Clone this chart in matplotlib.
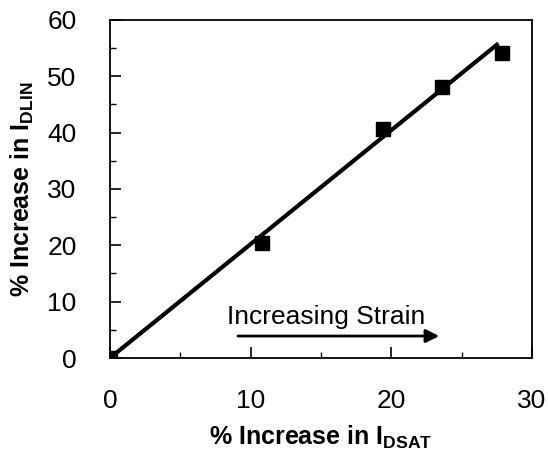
import numpy as np
import matplotlib.pyplot as plt

plt.rcParams['font.family'] = ['Liberation Sans', 'DejaVu Sans']

# measured points
idsat = [0, 10.8, 19.4, 23.6, 27.9]
idlin = [0, 20.4, 40.7, 48.1, 54.2]

# linear fit line
fit_x = [0, 27.5]
fit_y = [0, 55.6]

fig = plt.figure(figsize=(5.48, 4.51), dpi=100)
ax = fig.add_axes([0.2007, 0.2062, 0.7701, 0.7495])

ax.plot(fit_x, fit_y, 'k-', lw=3)
ax.plot(idsat, idlin, 'ks', ms=10.5)

ax.annotate('', xy=(23.6, 3.9), xytext=(8.9, 3.9),
            arrowprops=dict(arrowstyle='-|>', color='k', lw=2, mutation_scale=20))
ax.text(8.3, 7.2, 'Increasing Strain', fontsize=19, va='center', ha='left')

ax.set_xlim(0, 30)
ax.set_ylim(0, 60)
ax.set_xticks([0, 10, 20, 30])
ax.set_yticks([0, 10, 20, 30, 40, 50, 60])
ax.set_yticks(np.arange(5, 60, 5), minor=True)
ax.set_xticks(np.arange(5, 30, 5), minor=True)
ax.tick_params(axis='both', which='major', direction='in', length=8, width=1.2,
               labelsize=19)
ax.tick_params(axis='both', which='minor', direction='in', length=4, width=1)
ax.tick_params(axis='y', which='major', pad=24)
ax.tick_params(axis='x', which='major', pad=22)

for s in ax.spines.values():
    s.set_linewidth(1.3)

ax.set_xlabel(r'% Increase in I$_{\mathregular{DSAT}}$', fontsize=18, fontweight='bold', labelpad=8)
ax.set_ylabel(r'% Increase in I$_{\mathregular{DLIN}}$', fontsize=18, fontweight='bold', labelpad=8)

fig.savefig('out.png', dpi=100)
